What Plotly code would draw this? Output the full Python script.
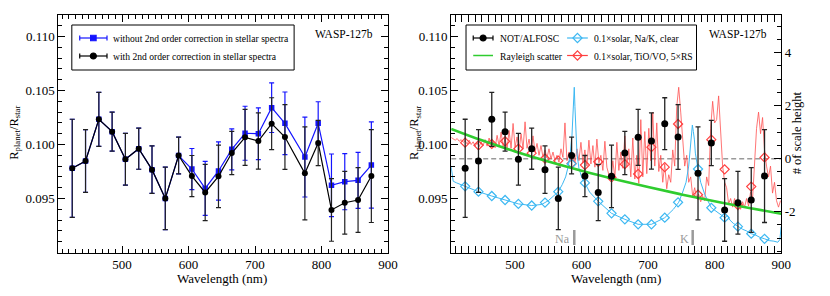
import plotly.graph_objects as go

# ---------------- data ----------------
wl = [425, 445, 465, 485, 505, 525, 545, 565, 585, 605, 625, 645, 665, 685, 705,
      725, 745, 775, 795, 815, 835, 855, 875]
rp_with = [0.09780, 0.09847, 0.10233, 0.10119, 0.09863, 0.09961, 0.09767, 0.09501,
           0.09898, 0.09708, 0.09556, 0.09705, 0.09921, 0.10066, 0.10032, 0.10193,
           0.10069, 0.09733, 0.10014, 0.09394, 0.09461, 0.09486, 0.09708]
err_with = [0.00454, 0.00290, 0.00250, 0.00180, 0.00240, 0.00190, 0.00220, 0.00290,
            0.00170, 0.00190, 0.00260, 0.00290, 0.00200, 0.00260, 0.00260, 0.00240,
            0.00300, 0.00430, 0.00210, 0.00290, 0.00290, 0.00300, 0.00430]
rp_without = [0.09780, 0.09847, 0.10233, 0.10119, 0.09863, 0.09961, 0.09767, 0.09501,
              0.09898, 0.09773, 0.09593, 0.09755, 0.09955, 0.10104, 0.10100, 0.10341,
              0.10196, 0.09884, 0.10196, 0.09622, 0.09656, 0.09668, 0.09810]
err_without = [0.00454, 0.00290, 0.00250, 0.00180, 0.00240, 0.00190, 0.00220, 0.00290,
               0.00170, 0.00190, 0.00250, 0.00270, 0.00190, 0.00250, 0.00240, 0.00230,
               0.00290, 0.00370, 0.00200, 0.00290, 0.00260, 0.00260, 0.00400]

# binned models
blue_bin = [0.09613, 0.09563, 0.09523, 0.09486, 0.09450, 0.09435, 0.09462, 0.09563,
            0.09820, 0.09644, 0.09474, 0.09363, 0.09307, 0.09261, 0.09261, 0.09322,
            0.09465, 0.09773, 0.09414, 0.09322, 0.09239, 0.09174, 0.09127]
red_bin = [0.10017, 0.09993, 0.10005, 0.10030, 0.09961, 0.09920, 0.09870, 0.09850,
           0.09825, 0.09810, 0.09840, 0.09695, 0.09818, 0.09727, 0.09975, 0.09790,
           0.10190, 0.09535, 0.10045, 0.09770, 0.09440, 0.09610, 0.09880]

# high resolution model: 0.1x solar, Na/K, clear
blue_wl = [404, 405.5, 407, 412, 425, 445, 465, 485, 505, 525, 540, 550, 558, 565, 571,
           576, 580, 583, 585.5, 587.5, 589, 590, 591.5, 593, 596, 600, 605, 612, 625,
           645, 665, 685, 705, 725, 738, 746, 752, 757, 761, 764, 766.5, 768, 769.5,
           771, 773, 775, 779, 785, 795, 805, 812, 816, 819, 823, 828, 835, 842, 848,
           855, 862, 868, 875, 882, 889, 895, 898, 900]
blue_val = [0.09790, 0.09720, 0.09660, 0.09645, 0.09613, 0.09563, 0.09523, 0.09486,
            0.09450, 0.09435, 0.09445, 0.09480, 0.09520, 0.09563, 0.09630, 0.09700,
            0.09800, 0.09920, 0.10080, 0.10300, 0.10530, 0.10350, 0.10100, 0.09920,
            0.09780, 0.09700, 0.09644, 0.09560, 0.09474, 0.09363, 0.09307, 0.09261,
            0.09261, 0.09322, 0.09400, 0.09465, 0.09560, 0.09650, 0.09800, 0.09980,
            0.10180, 0.10120, 0.10050, 0.09920, 0.09840, 0.09773, 0.09650, 0.09540,
            0.09414, 0.09370, 0.09345, 0.09320, 0.09345, 0.09300, 0.09270, 0.09239,
            0.09215, 0.09200, 0.09174, 0.09160, 0.09140, 0.09127, 0.09110, 0.09105,
            0.09095, 0.09120, 0.09240]

# high resolution model: 0.1x solar, TiO/VO, 5xRS (sampled every 3 nm)
red_wl = list(range(404, 901, 3))
red_val = [
    0.10065, 0.10050, 0.10040, 0.10055, 0.10030, 0.10045, 0.10020, 0.10035, 0.10005, 0.10040,
    0.10000, 0.10025, 0.09985, 0.10015, 0.09980, 0.10025, 0.09990, 0.10045, 0.09985, 0.10060,
    0.09985, 0.10030, 0.09970, 0.10085, 0.09985, 0.10115, 0.09980, 0.10060, 0.09955, 0.10130,
    0.09965, 0.10195, 0.09975, 0.10070, 0.09945, 0.10100, 0.09960, 0.10210, 0.09965, 0.10050,
    0.09935, 0.10080, 0.09930, 0.10010, 0.09900, 0.09990, 0.09880, 0.09950, 0.09875, 0.09960,
    0.09865, 0.09930, 0.09850, 0.09900, 0.09835, 0.09960, 0.09880, 0.10200, 0.09850, 0.09930,
    0.09840, 0.09900, 0.09830, 0.09960, 0.09850, 0.10020, 0.09830, 0.09950, 0.09800, 0.10040,
    0.09820, 0.09990, 0.09790, 0.10050, 0.09830, 0.09900, 0.09760, 0.10030, 0.09790, 0.09720,
    0.09680, 0.09850, 0.09690, 0.10020, 0.09760, 0.09930, 0.09780, 0.10080, 0.09790, 0.09960,
    0.09700, 0.10060, 0.09680, 0.09900, 0.09640, 0.10230, 0.09700, 0.10120, 0.09730, 0.10150,
    0.09850, 0.10300, 0.09800, 0.10200, 0.09750, 0.09900, 0.09650, 0.09820, 0.09590, 0.09720,
    0.09650, 0.09950, 0.09800, 0.10350, 0.10530, 0.10300, 0.10050, 0.09800, 0.09900, 0.09650,
    0.09700, 0.09520, 0.09600, 0.09500, 0.09540, 0.09470, 0.09520, 0.09480, 0.09700, 0.09620,
    0.10150, 0.10400, 0.10200, 0.10230, 0.10450, 0.10150, 0.09800, 0.09650, 0.09600, 0.09450,
    0.09500, 0.09420, 0.09500, 0.09430, 0.09480, 0.09400, 0.09470, 0.09420, 0.09500, 0.09430,
    0.09560, 0.09500, 0.09800, 0.10150, 0.10300, 0.10100, 0.10250, 0.09950, 0.09800, 0.09700,
    0.09800, 0.09550, 0.09650, 0.09480, 0.09420, 0.09480]

# Rayleigh scattering slope
ray_wl = [404, 450, 500, 550, 600, 650, 700, 750, 800, 850, 900]
ray_val = [0.10145, 0.10039, 0.09936, 0.09842, 0.09757, 0.09679, 0.09606, 0.09538,
           0.09475, 0.09415, 0.09359]

# line markers
line_names = ["Na", "K"]
line_wl = [589.0, 767.0]
line_mark = [0.09069, 0.09208]

# reference radius and scale height (Rp/Rs units)
R0 = 0.098685
H = 0.002454

x_range = [404, 900]
y_range = [0.090, 0.112]
y_ticks = [0.095, 0.100, 0.105, 0.110]
sh_ticks = [-2, 0, 2, 4]

W, Hpx = 830, 296
FONT = "Liberation Serif, Times New Roman, Times, serif"

BLUE = "#1414ff"
LBLUE = "#3db8f2"
RED = "#ff4040"
GREEN = "#2fcc2f"
GREY = "#9a9a9a"

fig = go.Figure()

# ---------------- left panel ----------------
fig.add_trace(go.Scatter(
    x=wl, y=rp_without, mode="lines+markers", xaxis="x", yaxis="y",
    line=dict(color=BLUE, width=1.2),
    marker=dict(symbol="square", size=5.5, color=BLUE),
    error_y=dict(type="data", array=err_without, color=BLUE, thickness=1.2, width=2.5),
    showlegend=False))
fig.add_trace(go.Scatter(
    x=wl, y=rp_with, mode="lines+markers", xaxis="x", yaxis="y",
    line=dict(color="black", width=1.2),
    marker=dict(symbol="circle", size=6, color="black"),
    error_y=dict(type="data", array=err_with, color="#202020", thickness=1.2, width=2.5),
    showlegend=False))

# ---------------- right panel ----------------
fig.add_trace(go.Scatter(
    x=x_range, y=[R0, R0], mode="lines", xaxis="x2", yaxis="y2",
    line=dict(color=GREY, width=1.5, dash="5px,3px"), showlegend=False))
fig.add_trace(go.Scatter(
    x=red_wl, y=red_val, mode="lines", xaxis="x2", yaxis="y2",
    line=dict(color=RED, width=0.8), opacity=0.9, showlegend=False))
fig.add_trace(go.Scatter(
    x=wl, y=red_bin, mode="markers", xaxis="x2", yaxis="y2",
    marker=dict(symbol="diamond-open", size=7, color=RED, line=dict(width=1.2)),
    showlegend=False))
fig.add_trace(go.Scatter(
    x=blue_wl, y=blue_val, mode="lines", xaxis="x2", yaxis="y2",
    line=dict(color=LBLUE, width=1.0), showlegend=False))
fig.add_trace(go.Scatter(
    x=wl, y=blue_bin, mode="markers", xaxis="x2", yaxis="y2",
    marker=dict(symbol="diamond-open", size=7, color=LBLUE, line=dict(width=1.2)),
    showlegend=False))
fig.add_trace(go.Scatter(
    x=ray_wl, y=ray_val, mode="lines", xaxis="x2", yaxis="y2",
    line=dict(color=GREEN, width=2.6, shape="spline"), showlegend=False))
for lw in line_wl:
    fig.add_trace(go.Scatter(
        x=[lw, lw], y=line_mark, mode="lines", xaxis="x2", yaxis="y2",
        line=dict(color=GREY, width=2.5), showlegend=False))
for name, lw in zip(line_names, line_wl):
    fig.add_annotation(x=lw, y=sum(line_mark) / 2 - 0.0001, xref="x2", yref="y2",
                       text=name, showarrow=False, xanchor="right", xshift=-2,
                       font=dict(size=12, color=GREY, family=FONT))
fig.add_trace(go.Scatter(
    x=wl, y=rp_with, mode="markers", xaxis="x2", yaxis="y2",
    marker=dict(symbol="circle", size=7, color="black"),
    error_y=dict(type="data", array=err_with, color="#222222", thickness=1.3, width=2.5),
    showlegend=False))
# anchor trace for the scale-height axis
fig.add_trace(go.Scatter(x=[wl[0]], y=[0], xaxis="x2", yaxis="y3", mode="markers",
                         marker=dict(opacity=0), hoverinfo="skip", showlegend=False))

# ---------------- pixel overlay for legends / labels ----------------
def px_marker(x, y, symbol, color, size):
    fig.add_trace(go.Scatter(x=[x], y=[y], xaxis="x4", yaxis="y4", mode="markers",
                             marker=dict(symbol=symbol, size=size, color=color,
                                         line=dict(width=1.2, color=color)),
                             hoverinfo="skip", showlegend=False))

def px_line(x0, x1, y, color, width=1.2, caps=False):
    fig.add_shape(type="line", x0=x0, x1=x1, y0=y, y1=y, xref="x4", yref="y4",
                  line=dict(color=color, width=width))
    if caps:
        for xc in (x0, x1):
            fig.add_shape(type="line", x0=xc, x1=xc, y0=y - 2.5, y1=y + 2.5,
                          xref="x4", yref="y4", line=dict(color=color, width=1.2))

def px_text(x, y, text, size=10, anchor="left", angle=0, color="black"):
    fig.add_annotation(x=x, y=y, xref="x4", yref="y4", text=text, showarrow=False,
                       xanchor=anchor, yanchor="middle", textangle=angle,
                       font=dict(size=size, color=color, family=FONT))

LEG = 9.6
# left legend
fig.add_shape(type="rect", x0=72.7, x1=297.7, y0=25, y1=70, xref="x4", yref="y4",
              line=dict(color="black", width=1), fillcolor="rgba(0,0,0,0)")
px_line(80.7, 108.3, 38, BLUE, caps=True)
px_marker(94.5, 38, "square", BLUE, 5.5)
px_text(112.5, 38.5, "without 2nd order correction in stellar spectra", size=LEG)
px_line(80.7, 108.3, 56, "black", caps=True)
px_marker(94.5, 56, "circle", "black", 6)
px_text(112.5, 56.5, "with 2nd order correction in stellar spectra", size=LEG)

# right legend
fig.add_shape(type="rect", x0=471.7, x1=705, y0=25, y1=70, xref="x4", yref="y4",
              line=dict(color="black", width=1), fillcolor="rgba(0,0,0,0)")
px_line(479, 499, 38, "black", caps=True)
px_marker(489, 38, "circle", "black", 6)
px_text(504, 38.5, "NOT/ALFOSC", size=LEG)
px_line(574, 595, 38, LBLUE)
px_marker(584.5, 38, "diamond-open", LBLUE, 7)
px_text(599, 38.5, "0.1×solar, Na/K, clear", size=LEG)
px_line(479, 499, 55.5, GREEN, width=1.5)
px_text(504, 56, "Rayleigh scatter", size=LEG)
px_line(574, 595, 55.5, RED)
px_marker(584.5, 55.5, "diamond-open", RED, 7)
px_text(599, 56, "0.1×solar, TiO/VO, 5×RS", size=LEG)

# titles
px_text(380, 34, "WASP-127b", size=11.5, anchor="right")
px_text(778, 34, "WASP-127b", size=11.5, anchor="right")
px_text(225, 278, "Wavelength (nm)", size=13, anchor="center")
px_text(624, 278, "Wavelength (nm)", size=13, anchor="center")
px_text(15, 133, "R<sub>planet</sub>/R<sub>star</sub>", size=12.5, anchor="center", angle=-90)
px_text(420, 133, "R<sub>planet</sub>/R<sub>star</sub>", size=12.5, anchor="center", angle=-90)
px_text(807, 133, "# of scale height", size=12.5, anchor="center", angle=-90)

# ---------------- axes ----------------
L0, L1 = 59.0, 392.7
R0px, R1px = 456.7, 790.7
TOP, BOT = 14.9, 252.5
ydom = [(Hpx - BOT) / Hpx, (Hpx - TOP) / Hpx]

tickfont = dict(size=13, color="black", family=FONT)

def xax(dom, anchor):
    return dict(domain=dom, anchor=anchor, range=x_range, tick0=0, dtick=100,
                ticks="inside", ticklen=7, tickwidth=1, tickcolor="black",
                showline=True, linecolor="black", linewidth=1, mirror="allticks",
                showgrid=False, zeroline=False, tickfont=tickfont,
                minor=dict(dtick=10, tick0=0, ticks="inside", ticklen=4,
                           tickwidth=1, tickcolor="black", showgrid=False))

def yax(anchor, mirror):
    return dict(domain=ydom, anchor=anchor, range=y_range, tickmode="array",
                tickvals=y_ticks, ticktext=[f"{v:.3f}" for v in y_ticks],
                ticks="inside", ticklen=7, tickwidth=1, tickcolor="black",
                showline=True, linecolor="black", linewidth=1, mirror=mirror,
                showgrid=False, zeroline=False, tickfont=tickfont,
                minor=dict(dtick=0.001, tick0=0, ticks="inside", ticklen=4,
                           tickwidth=1, tickcolor="black", showgrid=False))

fig.update_layout(
    width=W, height=Hpx, margin=dict(l=0, r=0, t=0, b=0),
    paper_bgcolor="white", plot_bgcolor="rgba(0,0,0,0)",
    font=dict(family=FONT, color="black"),
    showlegend=False,
    xaxis=xax([L0 / W, L1 / W], "y"),
    yaxis=yax("x", "allticks"),
    xaxis2=xax([R0px / W, R1px / W], "y2"),
    yaxis2=yax("x2", False),
    yaxis3=dict(overlaying="y2", side="right", anchor="x2",
                range=[(y_range[0] - R0) / H, (y_range[1] - R0) / H],
                tickmode="array", tickvals=sh_ticks,
                ticktext=[str(v) for v in sh_ticks],
                ticks="inside", ticklen=7, tickwidth=1, tickcolor="black",
                showline=True, linecolor="black", linewidth=1,
                showgrid=False, zeroline=False, tickfont=tickfont,
                minor=dict(dtick=0.5, tick0=0, ticks="inside", ticklen=4,
                           tickwidth=1, tickcolor="black", showgrid=False)),
    xaxis4=dict(domain=[0, 1], anchor="y4", range=[0, W], visible=False, fixedrange=True),
    yaxis4=dict(domain=[0, 1], anchor="x4", range=[Hpx, 0], visible=False, fixedrange=True),
)

fig.write_html("out.html",
               config={"displayModeBar": False},
               post_script="document.body.style.margin='0';"
                           "document.body.style.overflow='hidden';")
